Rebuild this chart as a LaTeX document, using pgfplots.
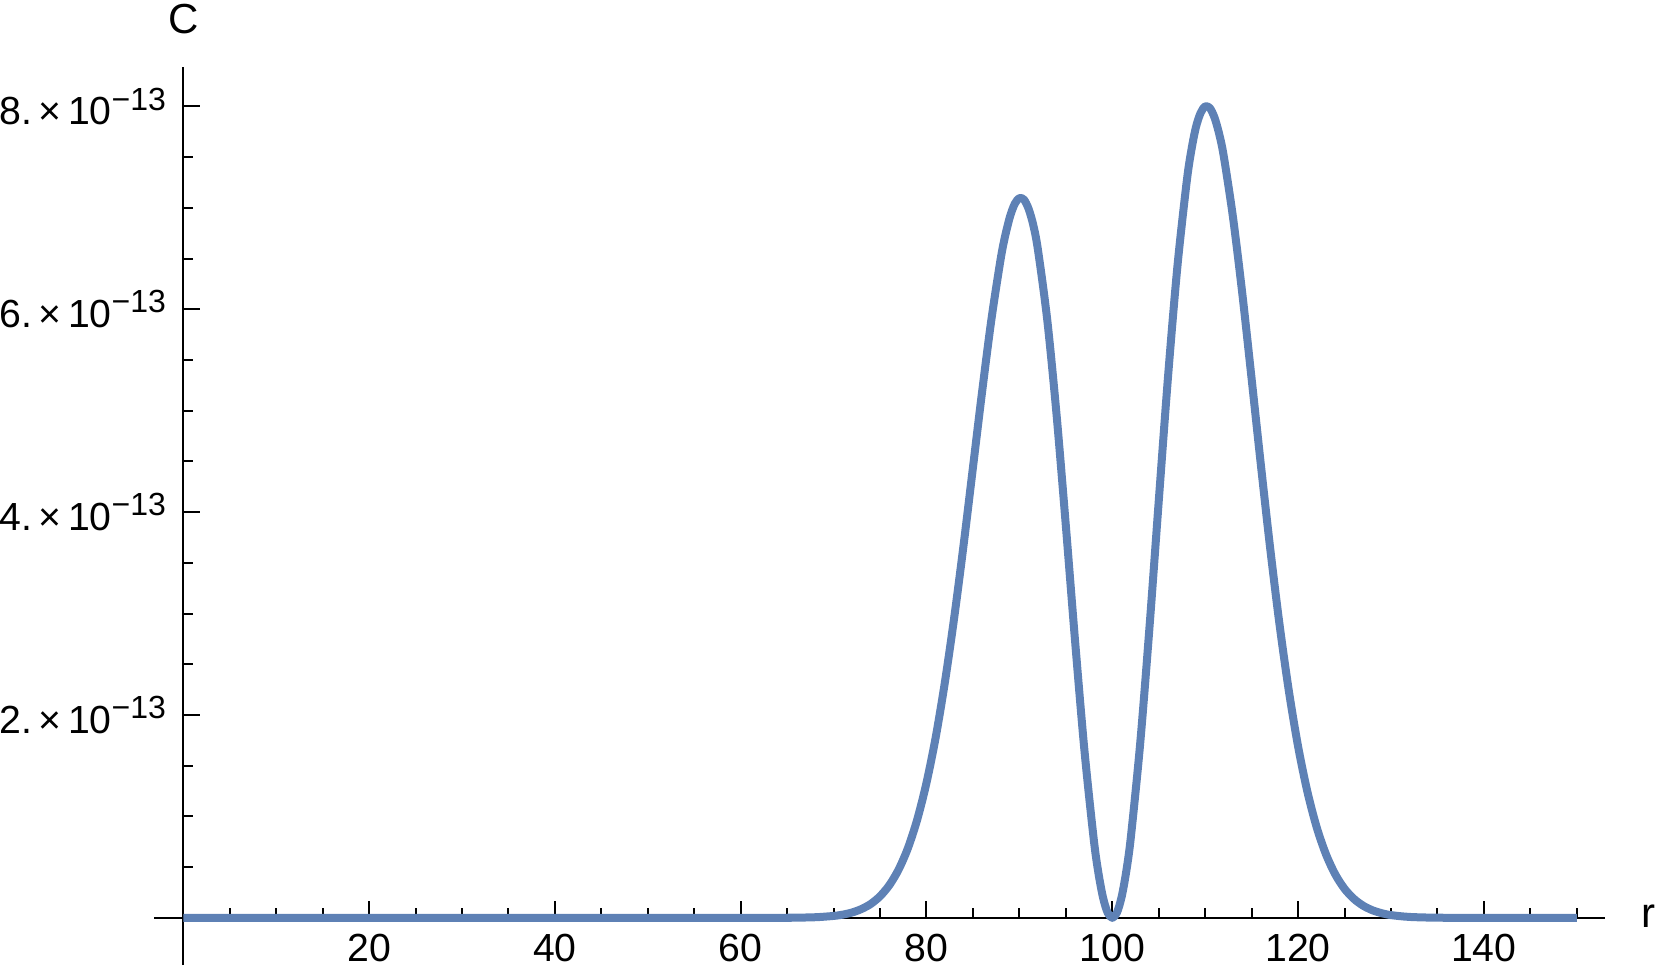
\documentclass[border=0pt]{standalone}
\usepackage{fontspec}
\setmainfont{Liberation Sans}
\usepackage{pgfplots}
\pgfplotsset{compat=1.18}
\definecolor{mmablue}{RGB}{94,129,181}

% y values are in units of 1e-13
\newcommand{\ylab}[1]{#1.\,×\,10\raisebox{3.7pt}{\fontsize{8}{8}\selectfont −13}}

\begin{document}
\begin{tikzpicture}
\begin{axis}[
  scale only axis,
  width=362.5pt, height=224.5pt,
  axis lines=middle,
  axis line style={-, line width=0.6pt},
  xmin=-3.1, xmax=153,
  ymin=-0.465, ymax=8.39,
  enlargelimits=false,
  xtick={20,40,...,140},
  minor xtick={5,10,15,25,30,35,45,50,55,65,70,75,85,90,95,105,110,115,125,130,135,145,150},
  ytick={2,4,6,8},
  yticklabels={\ylab{2},\ylab{4},\ylab{6},\ylab{8}},
  minor ytick={0.5,1,1.5,2.5,3,3.5,4.5,5,5.5,6.5,7,7.5},
  tick align=inside,
  major tick length=4.25pt, minor tick length=2.5pt,
  tick style={black, line width=0.5pt},
  tick label style={font=\fontsize{9.8}{11}\selectfont},
  /pgf/number format/assume math mode=true,
  yticklabel style={xshift=-0.8pt},
  xticklabel style={yshift=-0.5pt},
  scaled y ticks=false,
  clip=false,
]
\addplot [mmablue, line width=2pt, line join=round, smooth, tension=0.5] coordinates {
  (0,0) (60,0) (65,0.001) (68,0.006) (70,0.019) (71,0.032) (72,0.053)
  (73,0.087) (74,0.137) (75,0.213) (76,0.322) (77,0.476) (78,0.687)
  (79,0.968) (80,1.331) (81,1.784) (82,2.334) (83,2.971) (84,3.680)
  (85,4.439) (86,5.197) (87,5.907) (88,6.504) (88.5,6.736) (89,6.917)
  (89.5,7.040) (90,7.097) (90.5,7.081) (91,6.989) (91.5,6.829) (92,6.586)
  (93,5.896) (94,4.964) (95,3.868) (96,2.725)
  (97,1.654) (98,0.778) (98.5,0.447) (99,0.202) (99.5,0.051) (100,0)
  (100.5,0.051) (101,0.204) (101.5,0.455) (102,0.796) (103,1.715)
  (104,2.859) (105,4.107) (106,5.334) (107,6.412) (108,7.250) (108.5,7.562)
  (109,7.794) (109.5,7.935) (110,8.001) (110.5,7.985) (111,7.892)
  (111.5,7.732) (112,7.510) (113,6.903) (114,6.152) (115,5.314)
  (116,4.462) (117,3.642) (118,2.895) (119,2.242) (120,1.691) (121,1.245)
  (122,0.894) (123,0.627) (124,0.429) (125,0.287) (126,0.188) (127,0.120)
  (128,0.075) (129,0.046) (130,0.027) (132,0.009) (135,0.0015) (140,0)
  (150,0)
};
\node[font=\fontsize{10.5}{12}\selectfont] at (axis cs:0,8.86) {C};
\node[font=\fontsize{10.5}{12}\selectfont] at (axis cs:157.7,0.02) {r};
\coordinate (bl) at (axis cs:-19.73,-0.465);
\coordinate (tr) at (axis cs:159.07,9.05);
\end{axis}
\pgfresetboundingbox
\path (bl) rectangle (tr);
\end{tikzpicture}
\end{document}
